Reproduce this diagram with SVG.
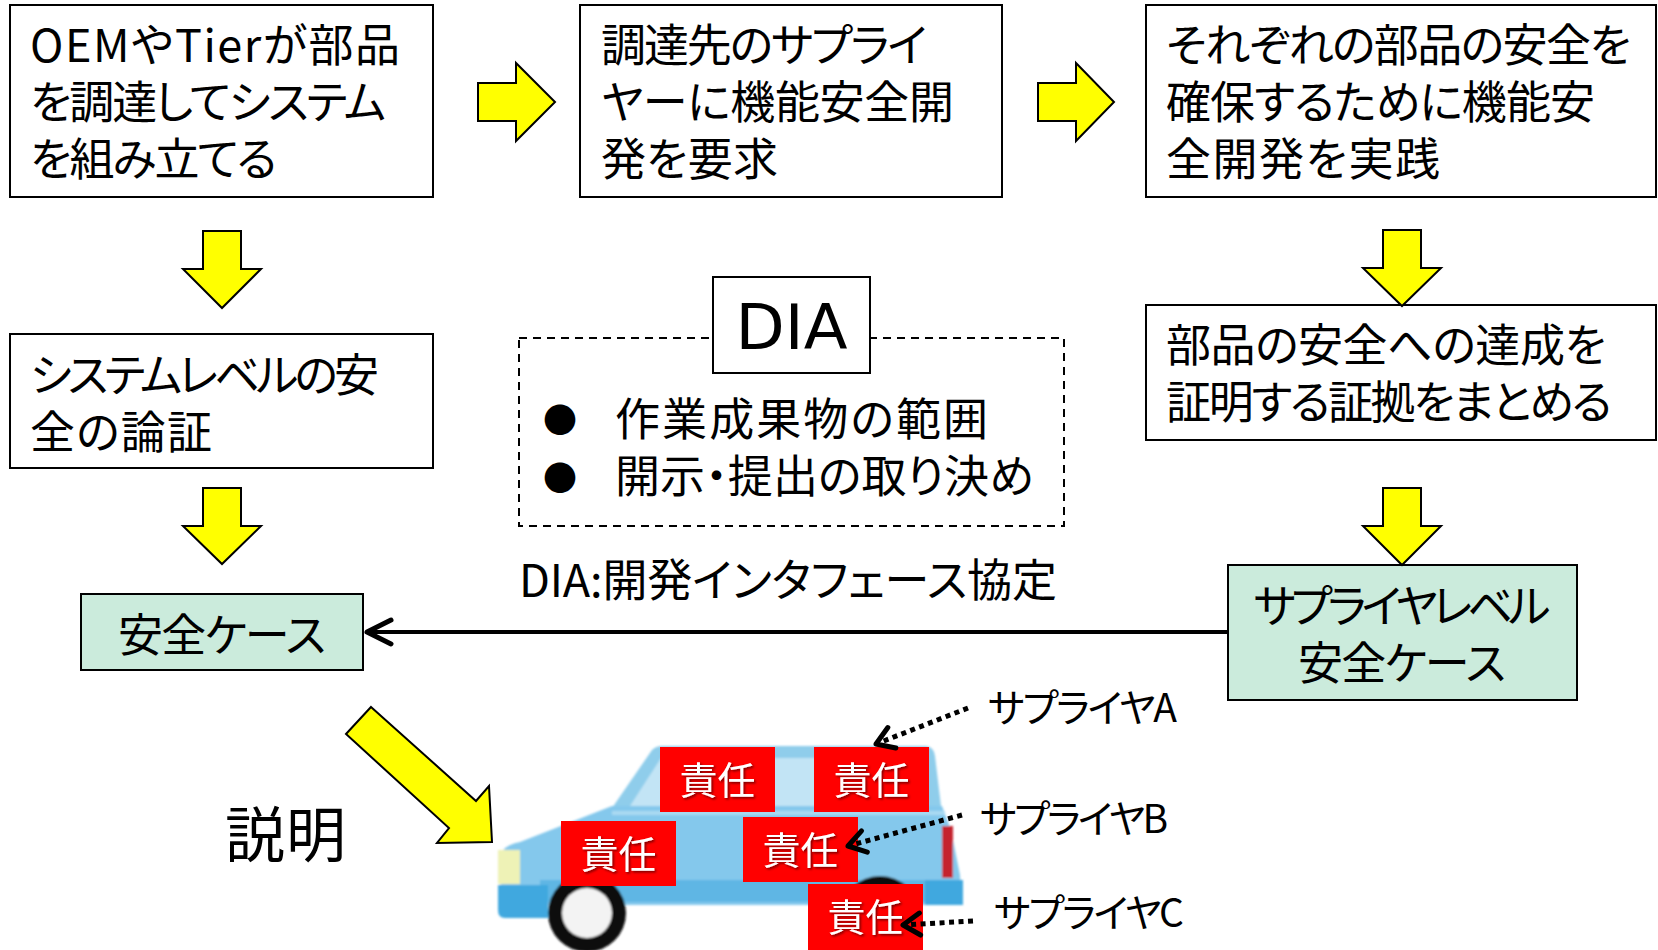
<svg xmlns="http://www.w3.org/2000/svg" width="1658" height="950" viewBox="0 0 1658 950">
  <defs>
    <style>
      .box { fill: #ffffff; stroke: #000000; stroke-width: 2; }
      .green { fill: #cbebdc; stroke: #000000; stroke-width: 2; }
      .yarrow { fill: #ffff00; stroke: #000000; stroke-width: 2; stroke-linejoin: miter; }
      .t { font-family: "Noto Sans CJK JP", "Noto Sans", sans-serif; font-size: 45px; fill: #000000; font-feature-settings: "palt"; }
      .mid { text-anchor: middle; }
      .lbl { font-family: "Noto Sans CJK JP", "Noto Sans", sans-serif; font-size: 39px; fill: #000000; font-feature-settings: "palt"; }
      .bul { font-family: "Noto Sans CJK JP", sans-serif; font-size: 34px; fill: #000000; text-anchor: middle; }
      .resp { fill: #ff0000; }
      .resp-t { font-family: "Noto Sans CJK JP", sans-serif; font-size: 38px; fill: #ffffff; text-anchor: middle; filter: url(#shadow); }
      .dots { fill: none; stroke: #000000; stroke-width: 5; stroke-dasharray: 5 4.5; }
      .conn { fill: none; stroke: #000000; stroke-width: 4; }
    </style>
    <marker id="chev" viewBox="-30 -16 34 32" markerWidth="34" markerHeight="32" refX="0" refY="0" orient="auto" markerUnits="userSpaceOnUse">
      <polyline points="-24,-12 0,0 -24,12" fill="none" stroke="#000000" stroke-width="5" stroke-linecap="round" stroke-linejoin="round"/>
    </marker>
    <marker id="chevS" viewBox="-24 -14 28 28" markerWidth="28" markerHeight="28" refX="0" refY="0" orient="auto" markerUnits="userSpaceOnUse">
      <polyline points="-17,-11 0,0 -17,11" fill="none" stroke="#000000" stroke-width="5" stroke-linecap="round" stroke-linejoin="round"/>
    </marker>
    <filter id="soft" x="-5%" y="-5%" width="110%" height="110%">
      <feGaussianBlur stdDeviation="1.2"/>
    </filter>
    <filter id="shadow" x="-10%" y="-10%" width="130%" height="130%">
      <feDropShadow dx="1.5" dy="1.5" stdDeviation="0.8" flood-color="#000000" flood-opacity="0.55"/>
    </filter>
  </defs>

  <!-- top row -->
  <g id="oem">
    <rect class="box" x="10" y="5" width="423" height="192"/>
    <text class="t" x="30" y="62" textLength="370">OEMやTierが部品</text>
    <text class="t" x="30" y="119" textLength="356">を調達してシステム</text>
    <text class="t" x="30" y="176" textLength="247">を組み立てる</text>
  </g>
  <g id="request">
    <rect class="box" x="580" y="5" width="422" height="192"/>
    <text class="t" x="601" y="62" textLength="326">調達先のサプライ</text>
    <text class="t" x="601" y="119" textLength="353">ヤーに機能安全開</text>
    <text class="t" x="601" y="176" textLength="177">発を要求</text>
  </g>
  <g id="practice">
    <rect class="box" x="1146" y="5" width="510" height="192"/>
    <text class="t" x="1166" y="62" textLength="465">それぞれの部品の安全を</text>
    <text class="t" x="1166" y="119" textLength="429">確保するために機能安</text>
    <text class="t" x="1166" y="176" textLength="274">全開発を実践</text>
  </g>

  <!-- middle row -->
  <g id="system-argument">
    <rect class="box" x="10" y="334" width="423" height="134"/>
    <text class="t" x="30" y="392" textLength="349">システムレベルの安</text>
    <text class="t" x="30" y="449" textLength="182">全の論証</text>
  </g>
  <g id="evidence">
    <rect class="box" x="1146" y="305" width="510" height="135"/>
    <text class="t" x="1166" y="362" textLength="440">部品の安全への達成を</text>
    <text class="t" x="1166" y="419" textLength="446">証明する証拠をまとめる</text>
  </g>
  <g id="dia">
    <rect x="519" y="338" width="545" height="188" fill="none" stroke="#000000" stroke-width="2" stroke-dasharray="8 6"/>
    <rect class="box" x="713" y="277" width="157" height="96"/>
    <text x="791.5" y="349" text-anchor="middle" font-family="DejaVu Sans, sans-serif" font-size="62" textLength="112" lengthAdjust="spacingAndGlyphs">DIA</text>
    <text class="bul" x="560" y="433">●</text>
    <text class="t" x="615" y="436" textLength="373">作業成果物の範囲</text>
    <text class="bul" x="560" y="491">●</text>
    <text class="t" x="615" y="493" textLength="419">開示・提出の取り決め</text>
  </g>
  <g id="dia-note">
    <text class="t" x="519" y="597" textLength="538">DIA:開発インタフェース協定</text>
  </g>

  <!-- safety cases -->
  <g id="safety-case">
    <rect class="green" x="81" y="594" width="282" height="76"/>
    <text class="t mid" x="222" y="652" textLength="208">安全ケース</text>
  </g>
  <g id="supplier-case">
    <rect class="green" x="1228" y="565" width="349" height="135"/>
    <text class="t mid" x="1402" y="623" textLength="297">サプライヤレベル</text>
    <text class="t mid" x="1402" y="680" textLength="208">安全ケース</text>
  </g>

  <g id="explain">
    <text class="t" x="225" y="857" style="font-size:60px" textLength="121">説明</text>
  </g>

  <!-- vehicle -->
  <g id="car" filter="url(#soft)">
    <path d="M612,808 L652,750 Q656,746 662,746 L926,746 Q934,747 935,756 L942,814 Z" fill="#8fcdeb"/>
    <path d="M630,806 L661,758 L745,758 L745,810 Z" fill="#c2e4f5"/>
    <rect x="760" y="758" width="90" height="52" fill="#c2e4f5"/>
    <path d="M865,758 L924,758 L928,810 L865,810 Z" fill="#c2e4f5"/>
    <path d="M502,852 Q505,845 520,842 L612,806 L942,806 L951,830 L960,875 L962,905 L500,905 Z" fill="#84c8ec"/>
    <line x1="612" y1="813" x2="945" y2="813" stroke="#aadaf2" stroke-width="4"/>
    <rect x="540" y="880" width="420" height="22" fill="#5fb6e4"/>
    <path d="M498,885 L548,885 L548,918 L505,918 Q498,918 498,910 Z" fill="#40a8df"/>
    <rect x="498" y="850" width="22" height="34" fill="#eef2b6"/>
    <circle cx="587" cy="913" r="39" fill="#111111"/>
    <circle cx="587" cy="913" r="25" fill="#f3f3f3"/>
    <circle cx="880" cy="916" r="40" fill="#111111"/>
    <circle cx="880" cy="916" r="25" fill="#f3f3f3"/>
    <rect x="942" y="826" width="11" height="52" fill="#c4242f"/>
    <rect x="925" y="880" width="38" height="25" fill="#40a8df"/>
  </g>

  <g id="resp-1"><rect class="resp" x="660" y="747" width="115" height="65"/><text class="resp-t" x="717.5" y="794">責任</text></g>
  <g id="resp-2"><rect class="resp" x="814" y="747" width="115" height="65"/><text class="resp-t" x="871.5" y="794">責任</text></g>
  <g id="resp-3"><rect class="resp" x="561" y="821" width="115" height="65"/><text class="resp-t" x="618.5" y="868">責任</text></g>
  <g id="resp-4"><rect class="resp" x="743" y="817" width="115" height="65"/><text class="resp-t" x="800.5" y="864">責任</text></g>
  <g id="resp-5"><rect class="resp" x="808" y="884" width="115" height="66"/><text class="resp-t" x="865.5" y="931">責任</text></g>

  <g id="supplier-a"><text class="lbl" x="988" y="722" textLength="189">サプライヤA</text></g>
  <g id="supplier-b"><text class="lbl" x="980" y="833" textLength="188">サプライヤB</text></g>
  <g id="supplier-c"><text class="lbl" x="994" y="927" textLength="190">サプライヤC</text></g>

  <!-- connectors -->
  <g id="connectors">
    <polygon class="yarrow" points="478,83 516,83 516,63 555,102 516,141 516,121 478,121"/>
    <polygon class="yarrow" points="1038,83 1076,83 1076,63 1114,102 1076,141 1076,121 1038,121"/>
    <polygon class="yarrow" points="203,231 241,231 241,269 261,269 222,308 183,269 203,269"/>
    <polygon class="yarrow" points="203,488 241,488 241,526 261,526 222,564 183,526 203,526"/>
    <polygon class="yarrow" points="1383,230 1421,230 1421,268 1441,268 1402,306 1363,268 1383,268"/>
    <polygon class="yarrow" points="1383,488 1421,488 1421,526 1441,526 1402,565 1363,526 1383,526"/>
    <polygon class="yarrow" points="371,707 476,801 489,786 492,842 437,843 449,828 346,734"/>
    <line class="conn" x1="1228" y1="632" x2="367" y2="632" marker-end="url(#chev)"/>
    <path class="dots" d="M968,708 L876,744" marker-end="url(#chevS)"/>
    <path class="dots" d="M962,815 L848,846" marker-end="url(#chevS)"/>
    <path class="dots" d="M973,921 L903,925" marker-end="url(#chevS)"/>
  </g>
</svg>
